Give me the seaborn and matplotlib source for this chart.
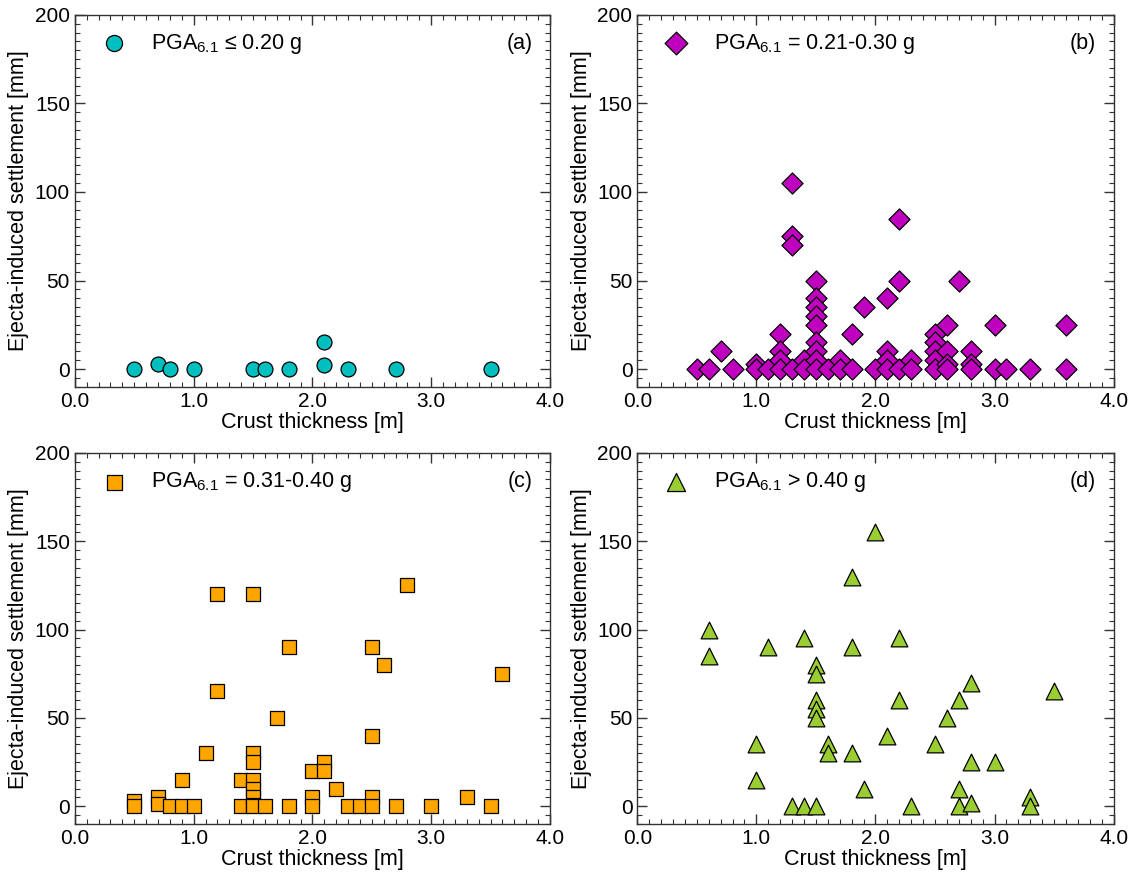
import numpy as np
import pandas as pd
import matplotlib
matplotlib.use("Agg")
import matplotlib.pyplot as plt
from matplotlib.ticker import MultipleLocator, FormatStrFormatter
import seaborn as sns

# ---- data ----
a_x = [0.5, 0.7, 0.8, 1.0, 1.5, 1.6, 1.8, 2.1, 2.1, 2.3, 2.7, 3.5]
a_y = [0, 3, 0, 0, 0, 0, 0, 15, 2.5, 0, 0, 0]

b_x = [0.5, 0.6, 0.7, 0.8, 1.0, 1.0, 1.1,
       1.2, 1.2, 1.2, 1.2,
       1.3, 1.3, 1.3, 1.3,
       1.4, 1.4,
       1.5, 1.5, 1.5, 1.5, 1.5, 1.5, 1.5, 1.5, 1.5,
       1.6, 1.7, 1.7, 1.8, 1.8, 1.9, 2.0,
       2.1, 2.1, 2.1, 2.1,
       2.2, 2.2, 2.2,
       2.3, 2.3,
       2.5, 2.5, 2.5, 2.5, 2.5,
       2.6, 2.6, 2.6, 2.6,
       2.7, 2.8, 2.8, 2.8,
       3.0, 3.0, 3.1, 3.3, 3.6, 3.6]
b_y = [0, 0, 10, 0, 3, 0, 0,
       20, 10, 5, 0,
       105, 75, 70, 0,
       5, 0,
       50, 40, 35, 30, 25, 15, 10, 5, 0,
       0, 5, 0, 20, 0, 35, 0,
       40, 10, 5, 0,
       85, 50, 0,
       5, 0,
       20, 15, 10, 5, 0,
       25, 10, 3, 0,
       50, 10, 3, 0,
       25, 0, 0, 0, 25, 0]

c_x = [0.5, 0.5, 0.7, 0.7, 0.8, 0.9, 0.9, 1.0, 1.1,
       1.2, 1.2, 1.4, 1.4,
       1.5, 1.5, 1.5, 1.5, 1.5, 1.5, 1.5, 1.5,
       1.6, 1.7, 1.8, 1.8, 2.0, 2.0, 2.0, 2.1, 2.1, 2.2,
       2.3, 2.4, 2.5, 2.5, 2.5, 2.5, 2.6, 2.7, 2.8, 3.0, 3.3, 3.5, 3.6]
c_y = [3, 0, 5, 1.5, 0, 15, 0, 0, 30,
       120, 65, 15, 0,
       120, 30, 25, 15, 10, 5, 1, 0,
       0, 50, 90, 0, 20, 5, 0, 25, 20, 10,
       0, 0, 90, 40, 5, 0, 80, 0, 125, 0, 5, 0, 75]

d_x = [0.6, 0.6, 1.0, 1.0, 1.1, 1.3, 1.4, 1.4,
       1.5, 1.5, 1.5, 1.5, 1.5, 1.5,
       1.6, 1.6, 1.8, 1.8, 1.8, 1.9, 2.0, 2.1, 2.2, 2.2,
       2.3, 2.5, 2.6, 2.7, 2.7, 2.7, 2.8, 2.8, 2.8, 3.0, 3.3, 3.3, 3.5]
d_y = [100, 85, 35, 15, 90, 0, 95, 0,
       80, 75, 60, 55, 50, 0,
       35, 30, 130, 90, 30, 10, 155, 40, 95, 60,
       0, 35, 50, 60, 10, 0, 70, 25, 2, 25, 5, 0, 65]

labels = ["PGA$_{6.1}$ \u2264 0.20 g", "PGA$_{6.1}$ = 0.21-0.30 g",
          "PGA$_{6.1}$ = 0.31-0.40 g", "PGA$_{6.1}$ > 0.40 g"]
panel_tags = ["(a)", "(b)", "(c)", "(d)"]

# ---- style ----
sns.set_style("ticks")
plt.rcParams['font.family'] = ['Liberation Sans', 'DejaVu Sans']
plt.rcParams['mathtext.default'] = 'regular'
for k in ['text.color', 'axes.labelcolor', 'xtick.color', 'ytick.color']:
    plt.rcParams[k] = 'black'

datasets = [(a_x, a_y), (b_x, b_y), (c_x, c_y), (d_x, d_y)]
markers = ['o', 'D', 's', '^']
colors = ['#00BFBF', '#BF00BF', '#FFA500', '#9ACD32']
sizes = [115, 115, 100, 145]

fig = plt.figure(figsize=(11.34, 8.77), dpi=100)
positions = [
    [0.066, 0.559, 0.419, 0.424],
    [0.562, 0.559, 0.420, 0.424],
    [0.066, 0.0605, 0.419, 0.423],
    [0.562, 0.0605, 0.420, 0.423],
]

for i, ((xs, ys), pos) in enumerate(zip(datasets, positions)):
    ax = fig.add_axes(pos)
    df = pd.DataFrame({"x": xs, "y": ys})
    sns.scatterplot(data=df, x="x", y="y", marker=markers[i], s=sizes[i],
                    color=colors[i], edgecolor='black', linewidth=0.9,
                    label=labels[i], ax=ax, zorder=3)
    ax.set_xlim(0, 4.0)
    ax.set_ylim(-10, 200)
    ax.xaxis.set_major_locator(MultipleLocator(1.0))
    ax.xaxis.set_minor_locator(MultipleLocator(0.1))
    ax.xaxis.set_major_formatter(FormatStrFormatter('%.1f'))
    ax.yaxis.set_major_locator(MultipleLocator(50))
    ax.yaxis.set_minor_locator(MultipleLocator(5))
    ax.tick_params(which='both', direction='in', top=True, right=True,
                   labelsize=15, color='#333333', labelcolor='black')
    ax.tick_params(which='major', length=7, width=1)
    ax.tick_params(which='minor', length=3.5, width=0.8)
    for sp in ax.spines.values():
        sp.set_color('#333333')
        sp.set_linewidth(1.0)
    ax.set_xlabel("Crust thickness [m]", fontsize=15.5, labelpad=1, color='black')
    ax.set_ylabel("Ejecta-induced settlement [mm]", fontsize=15.5, labelpad=4,
                  color='black')
    leg = ax.legend(loc='upper left', frameon=False, fontsize=15.5,
                    handletextpad=0.75, borderaxespad=0.4, borderpad=0.4,
                    markerscale=1.08)
    for t in leg.get_texts():
        t.set_color('black')
    ax.text(0.963, 0.922, panel_tags[i], transform=ax.transAxes,
            ha='right', va='center', fontsize=15.5, color='black')

fig.savefig("out.png", dpi=100)
